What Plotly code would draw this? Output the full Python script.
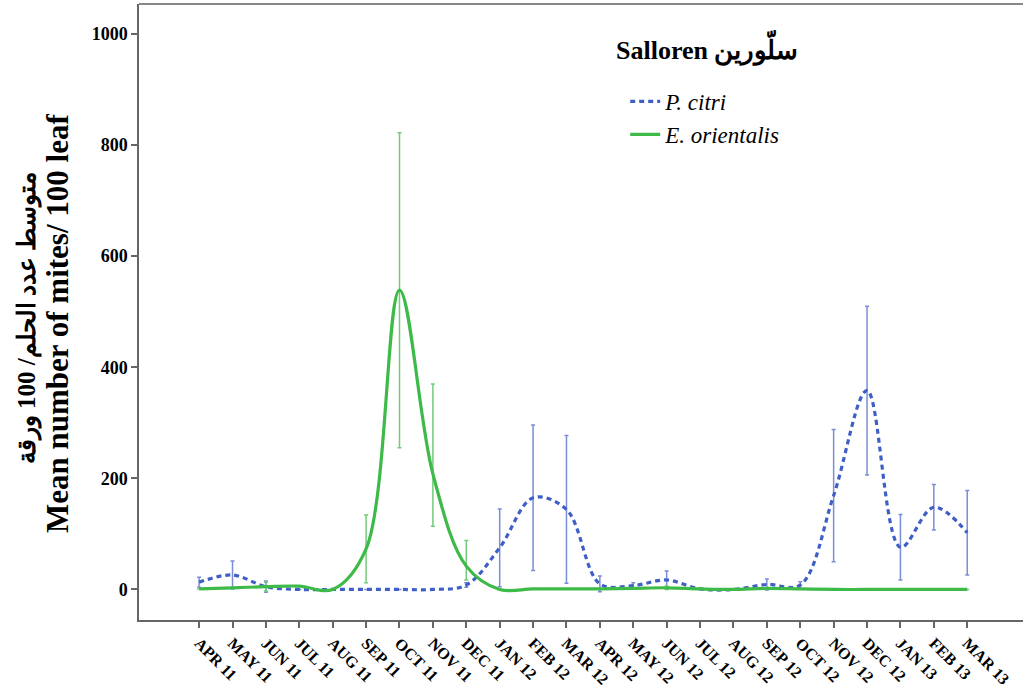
import plotly.graph_objects as go

months = ["APR 11", "MAY 11", "JUN 11", "JUL 11", "AUG 11", "SEP 11", "OCT 11", "NOV 11",
          "DEC 11", "JAN 12", "FEB 12", "MAR 12", "APR 12", "MAY 12", "JUN 12", "JUL 12",
          "AUG 12", "SEP 12", "OCT 12", "NOV 12", "DEC 12", "JAN 13", "FEB 13", "MAR 13"]

citri_mean = [13, 26, 5, 0, 0, 0, 0, 0, 8, 75, 165, 144, 10, 7, 17, 1, 0, 9, 8, 169, 358, 76, 148, 102]
citri_err = [9, 25, 10, 0, 0, 0, 0, 0, 4, 70, 131, 133, 14, 5, 16, 0, 0, 10, 6, 119, 152, 59, 41, 76]

orient_mean = [1, 3, 5, 6, 0, 73, 539, 208, 42, 0, 1, 1, 1, 2, 3, 1, 0, 2, 1, 0, 0, 0, 0, 0]
orient_err_plus = [0, 0, 8, 0, 0, 61, 283, 162, 46, 0, 0, 0, 0, 0, 3, 0, 0, 0, 0, 0, 0, 0, 0, 0]
orient_err_minus = [0, 0, 8, 0, 0, 61, 284, 94, 25, 0, 0, 0, 0, 0, 3, 0, 0, 0, 0, 0, 0, 0, 0, 0]

y_ticks = [0, 200, 400, 600, 800, 1000]

SERIF = "Liberation Serif, Times New Roman, DejaVu Serif, serif"
BLUE = "#3f5fc6"
GREEN = "#3dba48"

fig = go.Figure()

fig.add_trace(go.Scatter(
    x=months, y=citri_mean, mode="lines", name="<i>P. citri</i>",
    legendgroup="a",
    line=dict(color=BLUE, width=3.2, dash="5px,4px", shape="spline", smoothing=1.0),
    error_y=dict(type="data", array=citri_err, visible=True, color="#7a8ed8",
                 thickness=1.5, width=2),
))
fig.add_trace(go.Scatter(
    x=months, y=orient_mean, mode="lines", name="<i>E. orientalis</i>",
    legendgroup="b",
    line=dict(color=GREEN, width=3.2, shape="spline", smoothing=1.0),
    error_y=dict(type="data", symmetric=False, array=orient_err_plus,
                 arrayminus=orient_err_minus, visible=True, color="#72cc7a",
                 thickness=1.5, width=2),
))

fig.update_layout(
    width=1023, height=690,
    margin=dict(l=139, r=0, t=4, b=70, autoexpand=False),
    paper_bgcolor="white", plot_bgcolor="white",
    showlegend=True,
    legend=dict(x=0.550, y=0.8766, xanchor="left", yanchor="top",
                bgcolor="rgba(0,0,0,0)", tracegroupgap=0, itemwidth=30,
                font=dict(family=SERIF, size=23, color="black")),
    xaxis=dict(type="category", range=[-1.8, 24.67], automargin=False,
               tickmode="array", tickvals=months, ticktext=months,
               tickangle=45, ticks="outside", ticklen=6, tickwidth=1.5, tickcolor="#666",
               showline=True, linecolor="#666", linewidth=1.5,
               showgrid=False, zeroline=False,
               tickfont=dict(family=SERIF, size=16, color="black", weight="bold")),
    yaxis=dict(range=[-55, 1054], tickmode="array", tickvals=y_ticks, automargin=False,
               ticks="outside", ticklen=6, tickwidth=1.5, tickcolor="#666",
               showline=True, linecolor="#666", linewidth=1.5,
               showgrid=False, zeroline=False,
               tickfont=dict(family=SERIF, size=18, color="black", weight="bold")),
)

fig.add_shape(type="line", xref="paper", yref="paper", x0=0, x1=1, y0=1, y1=1,
              line=dict(color="#888", width=2))

fig.add_annotation(text="Salloren سلّورين", xref="paper", yref="paper",
                   x=0.6425, y=0.930, xanchor="center", yanchor="middle", showarrow=False,
                   font=dict(family=SERIF, size=26, color="black", weight="bold"))

fig.add_annotation(text="Mean number of mites/ 100 leaf", xref="paper", yref="paper",
                   x=0, xshift=-82, y=0.4805, textangle=-90, showarrow=False,
                   xanchor="center", yanchor="middle",
                   font=dict(family=SERIF, size=31, color="black", weight="bold"))
fig.add_annotation(text="متوسط عدد الحلم/ 100 ورقة", xref="paper", yref="paper",
                   x=0, xshift=-112, y=0.49, textangle=-90, showarrow=False,
                   xanchor="center", yanchor="middle",
                   font=dict(family=SERIF, size=25, color="black", weight="bold"))

fig.write_html("out.html", config={"displayModeBar": False},
               post_script="document.body.style.margin='0';")
